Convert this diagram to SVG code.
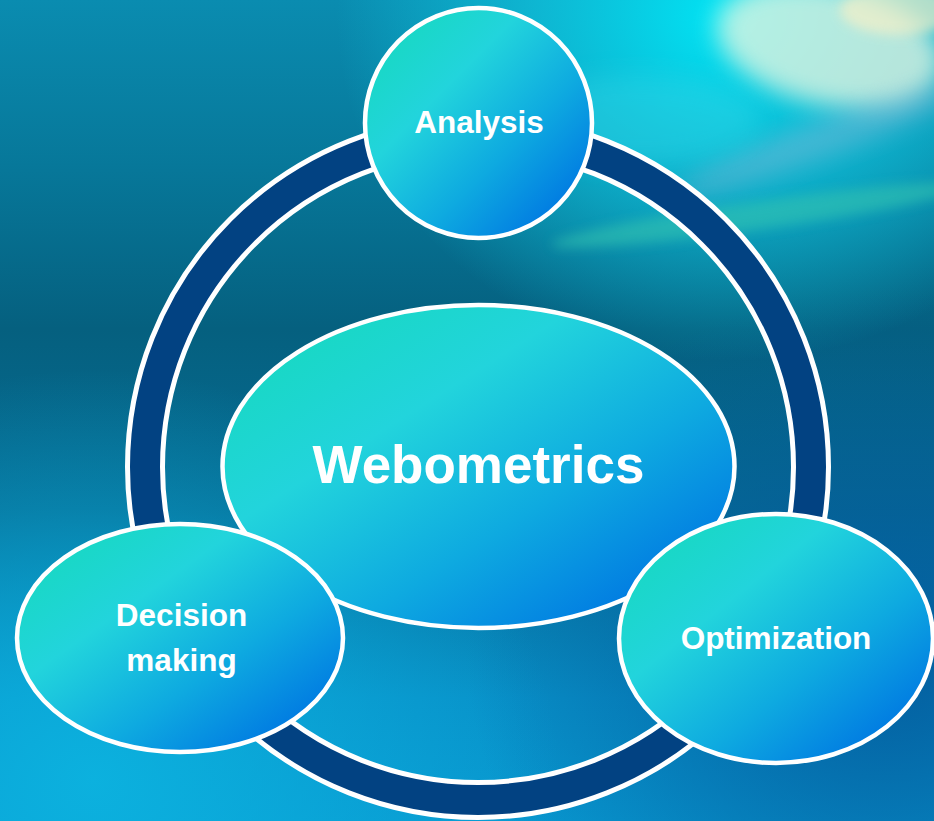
<svg xmlns="http://www.w3.org/2000/svg" width="934" height="821" viewBox="0 0 934 821">
  <defs>
    <linearGradient id="bgBase" x1="0" y1="0" x2="0" y2="1">
      <stop offset="0" stop-color="#0a8cb0"/>
      <stop offset="0.2" stop-color="#07789a"/>
      <stop offset="0.4" stop-color="#05607f"/>
      <stop offset="0.62" stop-color="#066c94"/>
      <stop offset="0.85" stop-color="#0890c8"/>
      <stop offset="1" stop-color="#0898d0"/>
    </linearGradient>
    <radialGradient id="bgBL" cx="0.1" cy="0.95" r="0.5">
      <stop offset="0" stop-color="#0cb4e0" stop-opacity="0.9"/>
      <stop offset="1" stop-color="#0cb4e0" stop-opacity="0"/>
    </radialGradient>
    <radialGradient id="bgBR" cx="0.95" cy="0.8" r="0.45">
      <stop offset="0" stop-color="#03589a" stop-opacity="0.9"/>
      <stop offset="1" stop-color="#03589a" stop-opacity="0"/>
    </radialGradient>
    <radialGradient id="bgTR" cx="0.78" cy="0.02" r="0.42">
      <stop offset="0" stop-color="#00e6f6" stop-opacity="1"/>
      <stop offset="0.5" stop-color="#10c8e0" stop-opacity="0.7"/>
      <stop offset="1" stop-color="#10c8e0" stop-opacity="0"/>
    </radialGradient>
    <filter id="blur12" x="-50%" y="-50%" width="200%" height="200%">
      <feGaussianBlur stdDeviation="12"/>
    </filter>
    <filter id="blur6" x="-50%" y="-50%" width="200%" height="200%">
      <feGaussianBlur stdDeviation="6"/>
    </filter>
    <linearGradient id="nodeFill" x1="0" y1="0" x2="1" y2="1">
      <stop offset="0.12" stop-color="#18d8c4"/>
      <stop offset="0.35" stop-color="#22d4dc"/>
      <stop offset="0.62" stop-color="#0eaae0"/>
      <stop offset="0.88" stop-color="#0078e2"/>
    </linearGradient>
    <style>
      .node { fill: url(#nodeFill); stroke: #ffffff; stroke-width: 4.5; }
      .label { fill: #ffffff; font-family: "Liberation Sans", Arial, sans-serif; font-weight: bold; text-anchor: middle; }
      .small { font-size: 31.5px; }
      .big { font-size: 53px; }
    </style>
  </defs>

  <g id="background">
    <rect x="0" y="0" width="934" height="821" fill="url(#bgBase)"/>
    <rect x="0" y="0" width="934" height="821" fill="url(#bgBL)"/>
    <rect x="0" y="0" width="934" height="821" fill="url(#bgBR)"/>
    <rect x="0" y="0" width="934" height="821" fill="url(#bgTR)"/>
    <ellipse cx="830" cy="45" rx="115" ry="60" fill="#eef6e0" opacity="0.75" filter="url(#blur12)" transform="rotate(12 830 45)"/>
    <ellipse cx="900" cy="10" rx="60" ry="25" fill="#f6f0c8" opacity="0.7" filter="url(#blur6)"/>
    <ellipse cx="760" cy="215" rx="210" ry="14" fill="#38c8b0" opacity="0.55" filter="url(#blur6)" transform="rotate(-8 760 215)"/>
    <ellipse cx="820" cy="140" rx="150" ry="18" fill="#a8b8d8" opacity="0.35" filter="url(#blur12)" transform="rotate(-20 820 140)"/>
    <ellipse cx="640" cy="120" rx="120" ry="45" fill="#30d8e8" opacity="0.4" filter="url(#blur12)"/>
  </g>

  <g id="connectors">
    <circle cx="478" cy="467" r="333" fill="none" stroke="#ffffff" stroke-width="40"/>
    <circle cx="478" cy="467" r="333" fill="none" stroke="#024282" stroke-width="30"/>
  </g>

  <g id="node-webometrics">
    <ellipse class="node" cx="478.5" cy="466.5" rx="256" ry="161.5"/>
    <text class="label big" x="478.5" y="483">Webometrics</text>
  </g>

  <g id="node-analysis">
    <ellipse class="node" cx="478.5" cy="123" rx="113.5" ry="115"/>
    <text class="label small" x="479" y="133">Analysis</text>
  </g>

  <g id="node-decision">
    <ellipse class="node" cx="180" cy="638" rx="163" ry="114"/>
    <text class="label small" x="181.5" y="626">Decision</text>
    <text class="label small" x="181.5" y="671">making</text>
  </g>

  <g id="node-optimization">
    <ellipse class="node" cx="776" cy="638.5" rx="157" ry="124.5"/>
    <text class="label small" x="776" y="649">Optimization</text>
  </g>
</svg>
